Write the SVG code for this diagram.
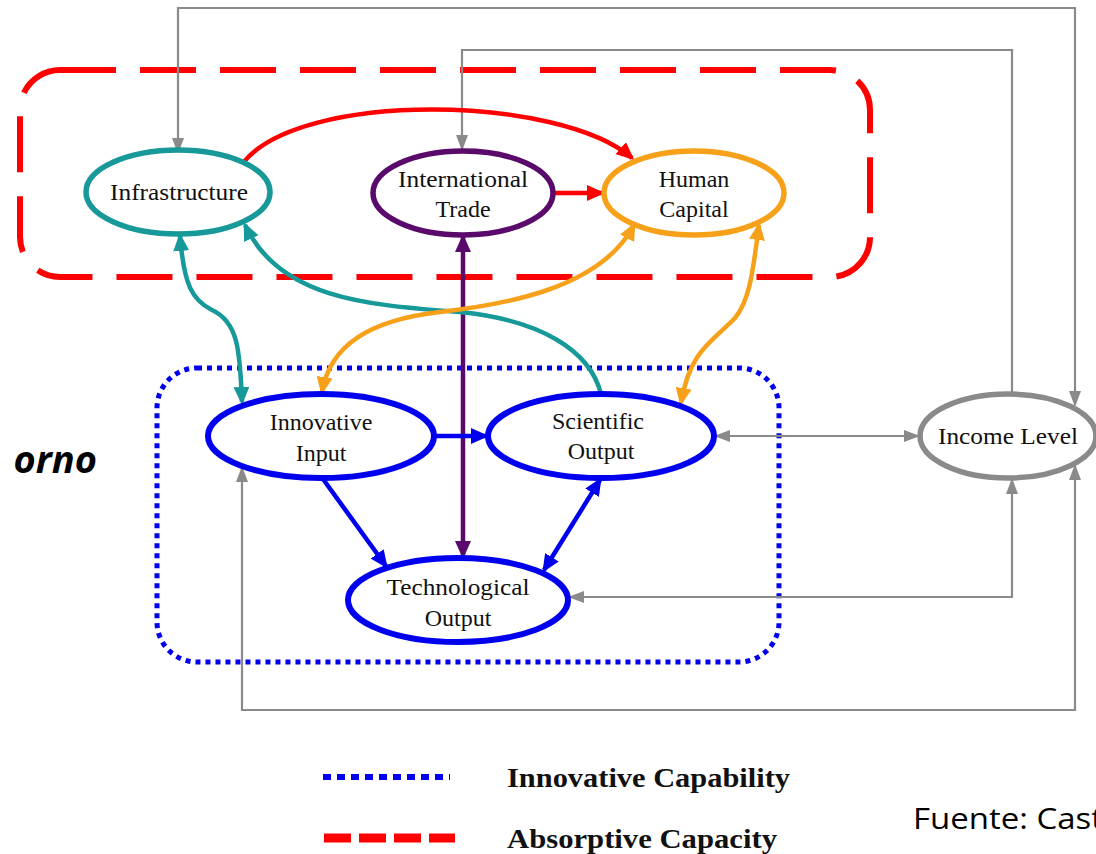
<svg xmlns="http://www.w3.org/2000/svg" width="1096" height="854" viewBox="0 0 1096 854">
<style>
.lbl{font-family:"Liberation Serif","Times New Roman",serif;font-size:24px;fill:#111;text-anchor:middle}
.leg{font-family:"Liberation Serif","Times New Roman",serif;font-size:28px;font-weight:bold;fill:#111}
.node{fill:#fff}
.g{fill:none;stroke:#8a8a8a;stroke-width:2.2}
.thick{fill:none;stroke-width:4.5}
</style>
<defs>
<marker id="aGray" viewBox="0 0 16 12" markerWidth="16" markerHeight="12" refX="14" refY="6" orient="auto-start-reverse" markerUnits="userSpaceOnUse"><path d="M0,0 L16,6 L0,12 z" fill="#8a8a8a"/></marker>
<marker id="aRed" viewBox="0 0 18 16" markerWidth="18" markerHeight="16" refX="15" refY="8" orient="auto-start-reverse" markerUnits="userSpaceOnUse"><path d="M0,0 L18,8 L0,16 z" fill="#f00"/></marker>
<marker id="aBlue" viewBox="0 0 18 16" markerWidth="18" markerHeight="16" refX="15" refY="8" orient="auto-start-reverse" markerUnits="userSpaceOnUse"><path d="M0,0 L18,8 L0,16 z" fill="#0000ee"/></marker>
<marker id="aTeal" viewBox="0 0 18 16" markerWidth="18" markerHeight="16" refX="15" refY="8" orient="auto-start-reverse" markerUnits="userSpaceOnUse"><path d="M0,0 L18,8 L0,16 z" fill="#17999a"/></marker>
<marker id="aOrange" viewBox="0 0 18 16" markerWidth="18" markerHeight="16" refX="15" refY="8" orient="auto-start-reverse" markerUnits="userSpaceOnUse"><path d="M0,0 L18,8 L0,16 z" fill="#f7a11a"/></marker>
<marker id="aPurple" viewBox="0 0 18 16" markerWidth="18" markerHeight="16" refX="15" refY="8" orient="auto-start-reverse" markerUnits="userSpaceOnUse"><path d="M0,0 L18,8 L0,16 z" fill="#5a0a6a"/></marker>
</defs>
<rect width="1096" height="854" fill="#fff"/>

<g id="groups">
<rect x="20" y="70" width="850" height="207" rx="40" fill="none" stroke="#f00" stroke-width="6" stroke-dasharray="56,24"/>
<rect x="157" y="368" width="622" height="294" rx="40" fill="none" stroke="#0000ee" stroke-width="5" stroke-dasharray="5,5"/>
</g>

<g id="connectors">
<path class="g" d="M178,152 V8 H1075 V405" marker-start="url(#aGray)" marker-end="url(#aGray)"/>
<path class="g" d="M1012,394 V50 H462 V149" marker-end="url(#aGray)"/>
<path class="g" d="M716,436 H918" marker-start="url(#aGray)" marker-end="url(#aGray)"/>
<path class="g" d="M1012,480 V597 H570" marker-start="url(#aGray)" marker-end="url(#aGray)"/>
<path class="g" d="M242,468 V710 H1075 V466" marker-start="url(#aGray)" marker-end="url(#aGray)"/>
<path class="thick" stroke="#f00" d="M243,163 C300,90 560,95 632,158" marker-end="url(#aRed)"/>
<path class="thick" stroke="#f00" d="M554,193 H602" marker-end="url(#aRed)"/>
<path class="thick" stroke="#5a0a6a" d="M463,237 V556" marker-start="url(#aPurple)" marker-end="url(#aPurple)"/>
<path class="thick" stroke="#17999a" d="M180,236 C184,285 192,300 212,310 C238,322 240,350 242,402" marker-start="url(#aTeal)" marker-end="url(#aTeal)"/>
<path class="thick" stroke="#17999a" d="M601,394 C590,350 540,320 460,312 C370,305 280,300 245,225" marker-end="url(#aTeal)"/>
<path class="thick" stroke="#f7a11a" d="M634,225 C600,290 500,305 440,312 C370,320 330,345 322,392" marker-start="url(#aOrange)" marker-end="url(#aOrange)"/>
<path class="thick" stroke="#f7a11a" d="M759,225 C753,270 750,300 735,318 C712,342 690,350 681,403" marker-start="url(#aOrange)" marker-end="url(#aOrange)"/>
<path class="thick" stroke="#0000ee" d="M435,436 H486" marker-end="url(#aBlue)"/>
<path class="thick" stroke="#0000ee" d="M323,479 L386,566" marker-end="url(#aBlue)"/>
<path class="thick" stroke="#0000ee" d="M600,480 L544,570" marker-start="url(#aBlue)" marker-end="url(#aBlue)"/>
</g>

<g id="infrastructure"><ellipse class="node" cx="178" cy="192" rx="92" ry="42" stroke="#17999a" stroke-width="5.5"/><text class="lbl" x="179" y="200" textLength="138" lengthAdjust="spacingAndGlyphs">Infrastructure</text></g>
<g id="international-trade"><ellipse class="node" cx="463" cy="193" rx="90" ry="42" stroke="#5a0a6a" stroke-width="5.5"/><text class="lbl" x="463" y="187" textLength="130" lengthAdjust="spacingAndGlyphs">International</text><text class="lbl" x="463" y="217">Trade</text></g>
<g id="human-capital"><ellipse class="node" cx="694" cy="193" rx="90" ry="42" stroke="#f7a11a" stroke-width="5.5"/><text class="lbl" x="694" y="187">Human</text><text class="lbl" x="694" y="217">Capital</text></g>
<g id="innovative-input"><ellipse class="node" cx="321" cy="436" rx="113" ry="42" stroke="#0000ee" stroke-width="6"/><text class="lbl" x="321" y="430">Innovative</text><text class="lbl" x="321" y="461">Input</text></g>
<g id="scientific-output"><ellipse class="node" cx="601" cy="436" rx="113" ry="42" stroke="#0000ee" stroke-width="6"/><text class="lbl" x="598" y="429">Scientific</text><text class="lbl" x="601" y="459">Output</text></g>
<g id="technological-output"><ellipse class="node" cx="458" cy="600" rx="110" ry="42" stroke="#0000ee" stroke-width="6"/><text class="lbl" x="458" y="595" textLength="143" lengthAdjust="spacingAndGlyphs">Technological</text><text class="lbl" x="458" y="626">Output</text></g>
<g id="income-level"><ellipse class="node" cx="1008" cy="436" rx="88" ry="42" stroke="#8a8a8a" stroke-width="5.5"/><text class="lbl" x="1008" y="444" textLength="140" lengthAdjust="spacingAndGlyphs">Income Level</text></g>

<g id="side-text">
<text x="97" y="473" text-anchor="end" style="font-family:'Open Sans','Liberation Sans',sans-serif;font-size:38px;font-weight:bold;font-style:italic;fill:#000">orno</text>
<text x="913" y="829" textLength="190" lengthAdjust="spacingAndGlyphs" style="font-family:'Open Sans','Liberation Sans',sans-serif;font-size:29px;fill:#000">Fuente: Cast</text>
</g>

<g id="legend">
<line x1="323" y1="777" x2="450" y2="777" stroke="#0000ee" stroke-width="6" stroke-dasharray="8,6"/>
<text class="leg" x="507" y="787" textLength="283" lengthAdjust="spacingAndGlyphs">Innovative Capability</text>
<line x1="324" y1="838" x2="455" y2="838" stroke="#f00" stroke-width="9" stroke-dasharray="27,8"/>
<text class="leg" x="507" y="848" textLength="270" lengthAdjust="spacingAndGlyphs">Absorptive Capacity</text>
</g>
</svg>
